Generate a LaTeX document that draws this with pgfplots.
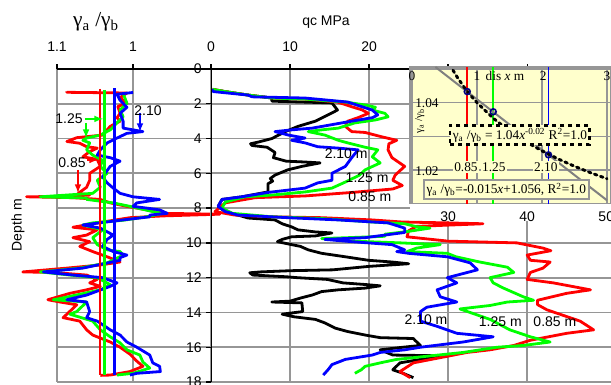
\documentclass[border=0pt]{standalone}
\usepackage{pgfplots}
\pgfplotsset{compat=1.18}
\usepackage{fontspec}
\setmainfont{Liberation Sans}
\newfontfamily\tnr{Liberation Serif}
\definecolor{gridgray}{RGB}{150,150,150}
\definecolor{insetyellow}{RGB}{255,255,204}
\definecolor{cred}{RGB}{255,0,0}
\definecolor{cgreen}{RGB}{0,255,0}
\definecolor{cblue}{RGB}{0,0,255}
\definecolor{navy}{RGB}{0,0,128}
\pgfplotsset{
  base/.style={scale only axis, anchor=north west, y dir=reverse, ymin=0, ymax=18,
    axis line style={draw=none}, grid=major, major grid style={gridgray, line width=1.4pt},
    tick align=outside, major tick length=3.5pt, tick style={black, line width=1pt},
    ticklabel style={font=\fontsize{10.5}{12}\selectfont},
    xticklabel style={yshift=6pt},
    /pgf/number format/assume math mode=true, ytick={0,2,...,18}},
  cur/.style={line width=2.1pt, line join=round}
}
\begin{document}
\begin{tikzpicture}
\useasboundingbox (0,0) rectangle (458.25pt,288.75pt);

% ---------------- left panel: gamma ratio ----------------
\begin{axis}[base, at={(42.75pt,237pt)}, width=115.5pt, height=234.75pt,
  xmin=0.8974, xmax=1.1, x dir=reverse, xtick={1,1.1}, xticklabels={1,1.1},
  xtick pos=top, xticklabel pos=top, yticklabels={}, ytick style={draw=none}, clip=false]
\addplot[cur, cred] coordinates {(1.087,1.28)(1.087,1.34)(1.008,1.38)(1.017,1.65)(1.008,1.97)(1.020,2.15)(1.017,2.55)(1.021,2.80)(1.017,3.00)(1.030,3.30)(1.034,3.50)(1.040,3.80)(1.074,3.95)(1.087,4.17)(1.070,4.27)(1.061,4.47)(1.047,4.55)(1.057,4.75)(1.066,5.05)(1.047,5.20)(1.043,5.60)(1.057,6.00)(1.057,6.40)(1.061,6.80)(1.072,7.15)(1.057,7.25)(1.087,7.32)(1.140,7.35)(1.079,7.40)(1.043,7.50)(1.030,7.70)(1.008,7.90)(0.982,8.10)(0.961,8.30)(0.886,8.35)(0.961,8.45)(1.004,8.55)(1.040,8.80)(1.079,9.10)(1.047,9.25)(1.061,9.55)(1.079,9.70)(1.057,9.93)(1.070,10.20)(1.053,10.50)(1.034,10.80)(1.017,11.10)(1.043,11.27)(1.087,11.45)(1.145,11.67)(1.105,11.70)(1.061,11.85)(1.047,12.10)(1.057,12.30)(1.043,12.50)(1.061,12.70)(1.083,12.90)(1.112,13.27)(1.096,13.40)(1.074,13.56)(1.087,14.10)(1.092,14.30)(1.070,14.50)(1.061,15.00)(1.053,15.30)(1.030,15.70)(1.017,16.00)(1.004,16.40)(0.995,16.80)(0.987,17.10)(1.004,17.40)(1.030,17.60)(1.043,17.62)};
\addplot[cur, cgreen] coordinates {(1.013,1.40)(1.008,1.97)(1.017,2.35)(1.013,2.75)(1.021,3.10)(1.030,3.50)(1.043,3.80)(1.061,3.97)(1.066,4.10)(1.057,4.25)(1.061,4.65)(1.053,4.95)(1.040,5.25)(1.043,5.60)(1.034,6.00)(1.047,6.40)(1.043,6.80)(1.053,7.15)(1.105,7.30)(1.122,7.35)(1.061,7.42)(1.061,7.50)(1.026,7.70)(1.004,7.90)(0.974,8.20)(0.961,8.30)(0.982,8.50)(1.013,8.70)(1.053,8.85)(1.066,8.97)(1.040,9.25)(1.053,9.70)(1.047,10.10)(1.034,10.40)(1.017,10.50)(1.013,10.70)(1.034,11.15)(1.070,11.45)(1.122,11.67)(1.083,11.85)(1.047,12.00)(1.030,12.40)(1.043,12.70)(1.096,13.20)(1.105,13.27)(1.061,13.40)(1.074,13.95)(1.083,14.10)(1.053,14.50)(1.043,15.00)(1.030,15.40)(1.017,15.75)(1.008,16.15)(0.991,16.45)(0.987,16.85)(0.978,17.20)(1.000,17.50)(1.021,17.60)};
\addplot[cur, cblue] coordinates {(1.000,1.35)(1.021,1.45)(1.017,1.80)(1.008,2.20)(1.017,2.55)(1.013,3.00)(1.013,3.40)(1.000,3.50)(0.987,3.60)(1.008,3.70)(1.021,3.97)(1.034,4.25)(1.043,4.65)(1.047,4.95)(1.030,5.10)(1.017,5.30)(1.030,5.60)(1.040,6.20)(1.034,6.55)(1.026,6.85)(1.017,7.15)(1.000,7.35)(0.965,7.50)(0.995,7.70)(1.000,7.90)(0.982,8.00)(0.965,8.10)(0.955,8.30)(0.978,8.40)(0.978,8.50)(1.017,8.70)(1.066,8.97)(1.043,9.15)(1.026,9.55)(1.034,9.80)(1.040,10.20)(1.026,10.50)(1.008,10.70)(1.017,10.85)(1.017,11.00)(1.066,11.45)(1.118,11.67)(1.079,11.85)(1.040,12.00)(1.021,12.30)(1.030,12.50)(1.061,13.00)(1.087,13.27)(1.061,13.40)(1.057,13.95)(1.061,14.30)(1.047,14.50)(1.030,15.00)(1.017,15.30)(1.008,15.70)(0.995,16.00)(0.978,16.45)(0.974,16.90)(0.965,17.10)(0.964,17.40)(0.995,17.50)(1.004,17.60)};
\addplot[cur, cred] coordinates {(1.0433,1.15)(1.0433,17.6)};
\addplot[cur, cgreen] coordinates {(1.0373,1.2)(1.0373,17.6)};
\addplot[cur, cblue] coordinates {(1.0245,1.1)(1.0245,17.6)};
\draw[black, line width=1.5pt] (axis cs:0.8974,0) -- (axis cs:1.1,0);
\draw[-latex, cgreen, line width=1.2pt] (axis cs:1.0632,2.87) -- (axis cs:1.0395,2.87);
\draw[-latex, cgreen, line width=1.2pt] (axis cs:1.0618,3.10) -- (axis cs:1.0618,3.97);
\draw[-latex, cred, line width=1.2pt] (axis cs:1.0605,5.23) -- (axis cs:1.0461,5.23);
\draw[-latex, cred, line width=1.2pt] (axis cs:1.0724,5.80) -- (axis cs:1.0724,7.13);
\draw[-latex, cblue, line width=1.2pt] (axis cs:0.9908,2.53) -- (axis cs:0.9908,3.62);
\node[font=\fontsize{10.5}{12}\selectfont] at (axis cs:1.0842,2.87) {1.25};
\node[font=\fontsize{10.5}{12}\selectfont] at (axis cs:1.0803,5.40) {0.85};
\node[font=\fontsize{10.5}{12}\selectfont] at (axis cs:0.9803,2.41) {2.10};
\end{axis}

% ---------------- middle panel: qc ----------------
\begin{axis}[base, at={(158.25pt,237pt)}, width=300pt, height=234.75pt,
  xmin=0, xmax=50.6, xtick={0,10,20,30,40}, xticklabels={0,10,20,{},{}},
  xtick pos=top, xticklabel pos=top, ytick pos=left]
\fill[white] (axis cs:25.2,7.4) rectangle (axis cs:50.6,8.75);
\addplot[cur, black] coordinates {(0.2,1.17)(1.8,1.30)(4.7,1.50)(7.7,1.67)(7.7,1.85)(11.5,1.90)(15.3,1.95)(16.0,2.36)(14.8,2.64)(13.2,3.00)(11.0,3.30)(9.4,3.60)(7.7,4.00)(6.0,4.20)(5.0,4.30)(5.2,4.40)(7.1,4.50)(8.1,4.80)(7.9,5.10)(9.5,5.30)(11.9,5.35)(13.8,5.40)(11.5,5.60)(9.7,5.80)(8.1,6.10)(7.5,6.30)(7.8,6.45)(7.2,6.60)(7.2,7.07)(3.9,7.35)(1.4,7.50)(0.9,7.90)(1.8,8.20)(3.4,8.40)(4.7,8.57)(8.1,8.68)(9.0,8.90)(10.2,9.08)(11.0,9.25)(13.2,9.37)(15.3,9.43)(13.2,9.60)(10.2,9.65)(9.0,9.80)(8.4,9.93)(10.2,10.10)(11.3,10.20)(12.3,10.40)(14.0,10.60)(17.0,10.80)(19.9,11.00)(22.9,11.10)(25.0,11.20)(20.0,11.35)(15.4,11.55)(10.0,11.60)(6.2,11.67)(4.9,11.72)(5.3,11.85)(9.6,11.95)(10.9,12.00)(14.7,12.10)(16.7,12.30)(19.7,12.40)(21.4,12.47)(19.5,12.60)(16.1,12.70)(14.0,12.80)(12.8,13.00)(11.5,13.15)(10.0,13.35)(7.7,13.40)(11.5,13.45)(11.6,13.95)(9.0,14.10)(10.5,14.25)(13.2,14.40)(14.4,14.60)(15.7,14.90)(17.3,15.10)(19.5,15.30)(21.4,15.45)(25.6,15.50)(25.8,15.60)(26.5,15.90)(24.3,16.00)(21.4,16.15)(23.0,16.45)(29.9,16.50)(26.5,16.70)(23.9,16.90)(23.0,17.30)(24.3,17.50)(25.6,17.75)};
\addplot[cur, cred] coordinates {(0.2,1.17)(1.8,1.30)(4.7,1.50)(7.7,1.67)(11.9,1.73)(16.0,1.90)(17.8,2.17)(19.1,2.35)(19.9,2.55)(18.6,2.80)(17.3,3.00)(17.0,3.30)(17.8,3.60)(19.5,3.65)(21.6,3.90)(23.5,4.10)(22.5,4.30)(22.4,4.65)(22.9,5.10)(24.5,5.60)(23.3,6.10)(23.0,6.40)(24.2,6.70)(23.0,6.90)(17.8,7.10)(11.9,7.30)(5.6,7.40)(1.8,7.70)(0.5,8.20)(3.0,8.40)(7.7,8.50)(14.0,8.55)(20.4,8.68)(24.2,8.80)(30.0,8.85)(34.4,8.90)(26.0,9.05)(25.0,9.30)(24.8,9.65)(30.0,9.90)(38.7,10.00)(42.0,10.30)(43.0,10.45)(40.0,10.70)(40.4,11.00)(42.9,11.10)(42.0,11.45)(40.4,11.70)(40.0,12.10)(43.3,12.30)(48.0,12.70)(45.0,12.90)(41.3,13.30)(41.3,13.55)(42.5,13.85)(46.7,14.50)(48.4,15.00)(45.0,15.20)(40.4,15.60)(38.3,15.90)(35.3,16.15)(32.4,16.30)(29.0,16.60)(25.6,16.90)(23.9,17.40)(25.2,17.75)};
\addplot[cur, cgreen] coordinates {(0.2,1.17)(1.8,1.30)(4.7,1.50)(7.7,1.67)(11.9,1.73)(17.0,1.90)(19.5,2.07)(20.8,2.20)(20.4,2.36)(22.0,2.55)(22.4,2.75)(20.8,2.93)(18.2,3.10)(16.1,3.40)(14.0,3.50)(12.3,3.60)(14.4,3.80)(16.1,4.10)(17.3,4.25)(19.5,4.50)(21.1,4.65)(20.4,5.05)(21.4,5.40)(19.5,5.80)(18.8,6.10)(17.0,6.50)(15.3,6.85)(11.9,7.07)(7.7,7.25)(4.3,7.35)(1.8,7.65)(1.4,8.00)(2.7,8.30)(7.7,8.50)(14.0,8.60)(20.4,8.80)(24.5,8.90)(26.0,9.07)(27.7,9.15)(24.8,9.35)(22.0,9.50)(22.0,9.62)(17.3,9.70)(14.0,9.75)(18.0,9.90)(24.0,10.00)(29.0,10.10)(26.0,10.30)(24.8,10.50)(29.9,10.60)(31.0,10.80)(34.0,11.10)(37.5,11.40)(38.3,11.70)(35.3,12.00)(35.7,12.30)(37.0,12.60)(39.5,13.10)(40.8,13.30)(37.5,13.40)(35.3,13.60)(32.4,13.75)(31.5,13.80)(35.3,14.40)(37.8,15.00)(40.4,15.40)(42.9,15.70)(39.5,15.90)(36.2,16.00)(31.9,16.30)(27.7,16.50)(23.5,16.70)(21.4,16.90)(19.5,17.10)(19.0,17.30)(18.2,17.50)};
\addplot[cur, cblue] coordinates {(0.1,1.17)(0.3,1.30)(4.7,1.50)(5.2,1.60)(11.9,1.67)(17.3,1.90)(19.1,2.17)(20.4,2.36)(21.1,2.64)(20.4,2.80)(17.8,3.00)(15.3,3.20)(12.8,3.40)(10.2,3.50)(8.1,3.60)(9.8,3.80)(11.0,3.90)(11.9,3.97)(10.2,4.10)(11.9,4.25)(13.5,4.47)(16.1,4.55)(18.6,4.65)(17.8,5.10)(17.0,5.60)(15.3,6.00)(15.3,6.40)(13.5,6.55)(11.9,6.85)(7.2,7.10)(3.9,7.35)(1.4,7.50)(0.9,7.90)(1.8,8.20)(3.4,8.40)(9.7,8.55)(16.1,8.68)(22.4,8.85)(24.5,9.15)(24.5,9.40)(19.5,9.70)(14.4,9.80)(17.8,9.93)(22.9,10.10)(24.5,10.40)(23.5,10.50)(25.0,10.60)(29.9,10.80)(32.8,11.15)(33.7,11.55)(29.9,12.00)(31.1,12.30)(28.6,12.70)(29.0,13.10)(31.1,13.40)(27.3,13.70)(26.5,13.95)(26.5,14.50)(28.6,14.80)(31.1,15.20)(35.7,15.40)(31.9,15.70)(26.5,16.00)(24.5,16.15)(21.4,16.30)(20.4,16.45)(17.0,16.70)(15.3,17.00)(14.8,17.30)(14.2,17.60)};
\draw[black, line width=1.5pt] (axis cs:0,18) -- (axis cs:0,0) -- (axis cs:50.6,0);
\begin{scope}[every node/.style={font=\fontsize{10.5}{12}\selectfont}]
\node at (axis cs:17.1,4.89) {2.10 m};
\node at (axis cs:19.75,6.26) {1.25 m};
\node at (axis cs:20.1,7.36) {0.85 m};
\node at (axis cs:27.2,14.43) {2.10 m};
\node at (axis cs:36.6,14.54) {1.25 m};
\node at (axis cs:43.5,14.54) {0.85 m};
\node at (axis cs:30,8.5) {30};
\node at (axis cs:40,8.5) {40};
\node at (axis cs:50,8.5) {50};
\end{scope}
\end{axis}

% ---------------- inset ----------------
\begin{axis}[at={(307.5pt,238.5pt)}, anchor=north west, scale only axis,
  width=150.75pt, height=102.5pt, xmin=-0.031, xmax=3.062, ymin=1.0100, ymax=1.0506,
  axis background/.style={fill=insetyellow}, axis line style={draw=gridgray, line width=1.2pt},
  grid=major, major grid style={gridgray, line width=1.2pt},
  xtick={0,1,2,3}, ytick={1.02,1.03,1.04,1.05}, xticklabels={}, yticklabels={},
  major tick length=0pt, clip=false]
\addplot[line width=1.4pt, cred] coordinates {(0.85,1.0100)(0.85,1.0506)};
\addplot[line width=1.4pt, cgreen] coordinates {(1.25,1.0100)(1.25,1.0506)};
\addplot[line width=1.4pt, cblue] coordinates {(2.10,1.0100)(2.10,1.0506)};
\addplot[line width=1.5pt, gray] coordinates {(0.36,1.0506)(3.0,1.011)};
\addplot[line width=2.2pt, black, line cap=round, dash pattern=on 2pt off 2.8pt] coordinates {(0.63,1.04965)(0.7,1.04745)(0.8,1.04465)(0.9,1.04219)(1.0,1.04)(1.25,1.03537)(1.5,1.0316)(1.75,1.02843)(2.0,1.02568)(2.25,1.02327)(2.5,1.02111)(2.75,1.01917)(3.0,1.0174)};
\addplot[only marks, mark=o, mark size=2.2pt, navy, line width=1.2pt] coordinates {(0.85,1.0433)(1.25,1.0373)(2.10,1.0245)};
\begin{scope}[every node/.style={font=\tnr\fontsize{10}{12}\selectfont, inner sep=1pt}]
\node[draw=black, dashed, line width=1.8pt, fill=insetyellow, inner sep=2pt] at (axis cs:1.66,1.0304) {γ\textsubscript{a} /γ\textsubscript{b} = 1.04\textit{x}\textsuperscript{-0.02} R\textsuperscript{2}=1.0};
\node[fill=insetyellow] at (axis cs:0.83,1.0209) {0.85};
\node[fill=insetyellow] at (axis cs:1.26,1.0209) {1.25};
\node[fill=insetyellow] at (axis cs:2.06,1.0209) {2.10};
\node[draw=gridgray, line width=1.5pt, fill=insetyellow, inner sep=2pt] at (axis cs:1.45,1.0141) {γ\textsubscript{a} /γ\textsubscript{b}=-0.015\textit{x}+1.056, R\textsuperscript{2}=1.0};
\node at (axis cs:0,1.0478) {0};
\node at (axis cs:1,1.0478) {1};
\node at (axis cs:2.02,1.0478) {2};
\node at (axis cs:3,1.0478) {3};
\node at (axis cs:1.43,1.0480) {dis \textit{x} m};
\node at (axis cs:0.23,1.0400) {1.04};
\node at (axis cs:0.23,1.0198) {1.02};
\node[rotate=90, font=\tnr\fontsize{8}{9}\selectfont] at (axis cs:0.12,1.0345) {γ\textsubscript{a} /γ\textsubscript{b}};
\end{scope}
\end{axis}

% ---------------- titles ----------------
\node[font=\tnr\fontsize{16}{18}\selectfont] at (72pt,272.25pt) {γ\textsubscript{a} /γ\textsubscript{b}};
\node[font=\fontsize{10.5}{12}\selectfont] at (244.5pt,272.25pt) {qc MPa};
\node[font=\fontsize{10.5}{12}\selectfont, rotate=90] at (13.5pt,120pt) {Depth m};
\end{tikzpicture}
\end{document}
